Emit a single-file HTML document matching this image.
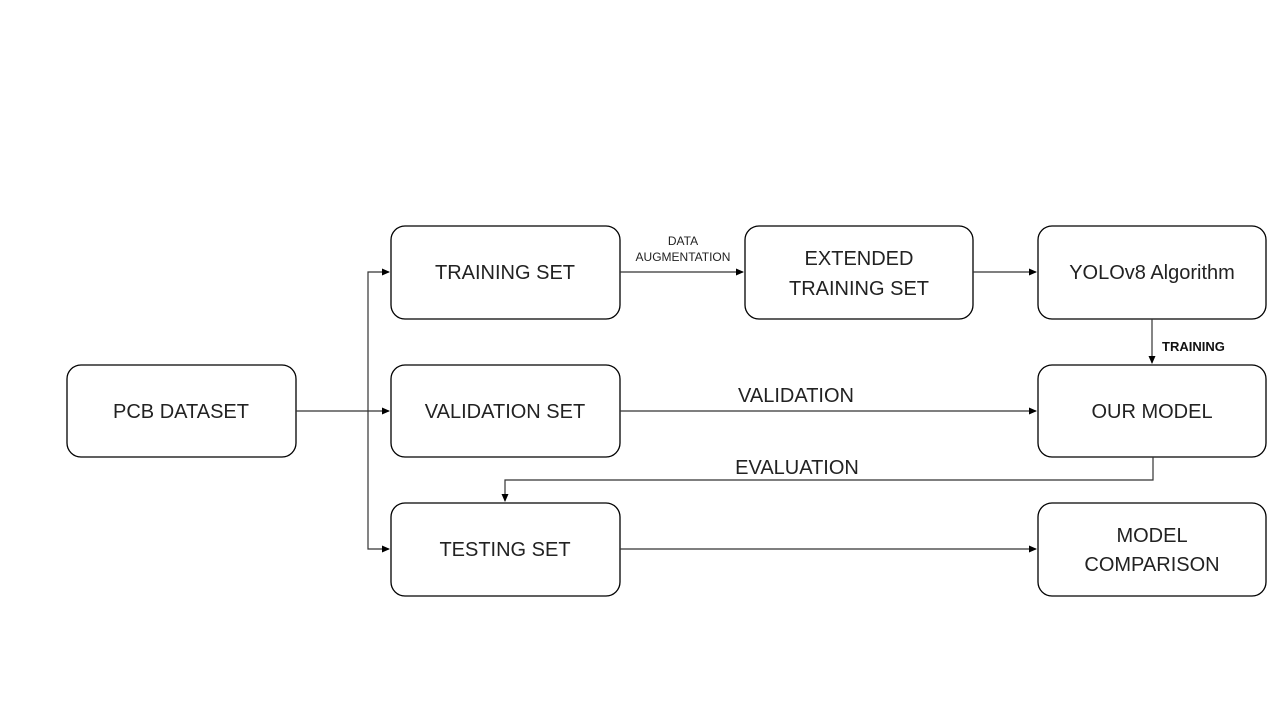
<!DOCTYPE html>
<html><head><style>body{margin:0;background:#fff}</style></head><body>
<svg width="1280" height="720" xmlns="http://www.w3.org/2000/svg" font-family="Liberation Sans, sans-serif">
<defs><marker id="a" markerWidth="8" markerHeight="8" refX="7" refY="4" orient="auto" markerUnits="userSpaceOnUse"><path d="M0,0.5 L8,4 L0,7.5z" fill="#000"/></marker></defs>
<g fill="#fff" stroke="#000" stroke-width="1.3">
<rect x="67" y="365" width="229" height="92" rx="14"/>
<rect x="391" y="226" width="229" height="93" rx="14"/>
<rect x="391" y="365" width="229" height="92" rx="14"/>
<rect x="391" y="503" width="229" height="93" rx="14"/>
<rect x="745" y="226" width="228" height="93" rx="14"/>
<rect x="1038" y="226" width="228" height="93" rx="14"/>
<rect x="1038" y="365" width="228" height="92" rx="14"/>
<rect x="1038" y="503" width="228" height="93" rx="14"/>
</g>
<g stroke="#333" stroke-width="1.2" fill="none">
<path d="M296 411 H389" marker-end="url(#a)"/>
<path d="M368 411 V272 H389" marker-end="url(#a)"/>
<path d="M368 411 V549 H389" marker-end="url(#a)"/>
<path d="M620 272 H743" marker-end="url(#a)"/>
<path d="M973 272 H1036" marker-end="url(#a)"/>
<path d="M620 411 H1036" marker-end="url(#a)"/>
<path d="M620 549 H1036" marker-end="url(#a)"/>
<path d="M1152 319 V363" marker-end="url(#a)"/>
<path d="M1153 457 V480 H505 V501" marker-end="url(#a)"/>
</g>
<g font-size="20" text-anchor="middle" fill="#222">
<text x="181" y="418">PCB DATASET</text>
<text x="505" y="279">TRAINING SET</text>
<text x="505" y="418">VALIDATION SET</text>
<text x="505" y="556">TESTING SET</text>
<text x="859" y="265">EXTENDED</text>
<text x="859" y="295">TRAINING  SET</text>
<text x="1152" y="279">YOLOv8 Algorithm</text>
<text x="1152" y="418">OUR MODEL</text>
<text x="1152" y="542">MODEL</text>
<text x="1152" y="571">COMPARISON</text>
<text x="796" y="402">VALIDATION</text>
<text x="797" y="474">EVALUATION</text>
</g>
<g font-size="12" text-anchor="middle" fill="#222">
<text x="683" y="245">DATA</text>
<text x="683" y="261">AUGMENTATION</text>
</g>
<text x="1162" y="351" font-size="13" font-weight="bold" fill="#111">TRAINING</text>
</svg>
</body></html>
